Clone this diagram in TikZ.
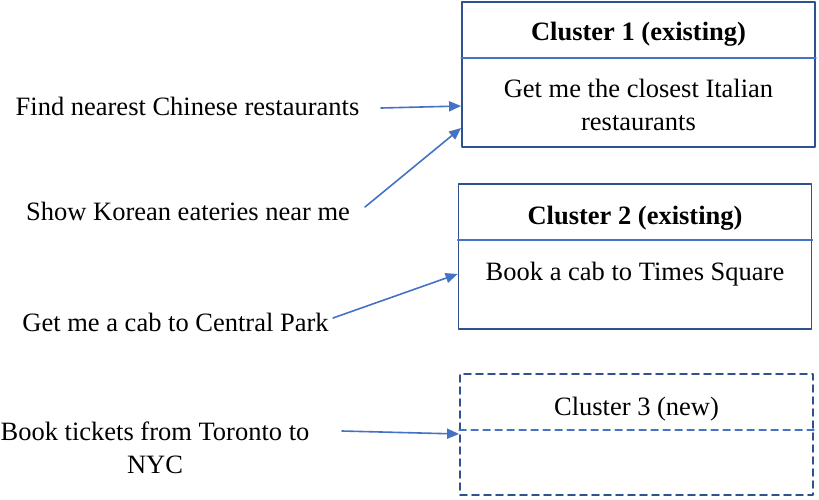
\documentclass[tikz,border=0pt]{standalone}
\usepackage{fontspec}
\setmainfont{Liberation Serif}
\usetikzlibrary{arrows.meta}

\definecolor{boxblue}{HTML}{2F528F}
\definecolor{linkblue}{HTML}{4472C4}

\tikzset{
  txt/.style={font=\fontsize{26.5}{32.5}\selectfont, inner sep=0pt, align=center},
  cbox/.style={draw=boxblue, line width=1.8pt, minimum width=353pt, inner sep=0pt},
  newbox/.style={cbox, dash pattern=on 7pt off 5pt},
  divline/.style={draw=linkblue, line width=1.4pt},
  link/.style={draw=linkblue, line width=1.6pt, -{Triangle[length=12pt,width=10pt]}}
}

\begin{document}
\begin{tikzpicture}[x=1pt, y=-1pt, line cap=round, line join=round]
    \useasboundingbox (0,0) rectangle (819,499);
    % clusters
    \node[cbox, minimum height=145pt] (c1) at (638.5,74.5) {};
    \node[cbox, minimum height=145pt] (c2) at (635,256.5) {};
    \node[newbox, minimum height=121pt] (c3) at (636.5,434.5) {};
    \draw[divline] (c1.west |- 0,58) -- (c1.east |- 0,58);
    \draw[divline] (c2.west |- 0,240) -- (c2.east |- 0,240);
    \draw[divline, dash pattern=on 7pt off 5pt] (c3.west |- 0,430) -- (c3.east |- 0,430);
    \node[txt, anchor=base, font=\fontsize{26.5}{32.5}\selectfont\bfseries] (h1) at (638.5,40) {Cluster 1 (existing)};
    \node[txt, anchor=base, font=\fontsize{26.5}{32.5}\selectfont\bfseries] (h2) at (635,224) {Cluster 2 (existing)};
    \node[txt, anchor=base] (h3) at (636.5,415) {Cluster 3 (new)};
    \node[txt, anchor=north] (b1) at (638.5,79) {Get me the closest Italian\\restaurants};
    \node[txt, anchor=base] (b2) at (635,280) {Book a cab to Times Square};
    % queries
    \node[txt, anchor=base] (q1) at (187.5,115.5) {Find nearest Chinese restaurants};
    \node[txt, anchor=base] (q2) at (188,220) {Show Korean eateries near me};
    \node[txt, anchor=base] (q3) at (175.5,331) {Get me a cab to Central Park};
    \node[txt, anchor=north] (q4) at (155,422) {Book tickets from Toronto to\\NYC};
    % links
    \coordinate (s1) at (381,108);  \coordinate (e1) at (c1.west |- 0,106);
    \coordinate (s2) at (365,207);  \coordinate (e2) at (c1.west |- 0,128);
    \coordinate (s3) at (333,318);  \coordinate (e3) at (c2.west |- 0,274);
    \coordinate (s4) at (342,431);  \coordinate (e4) at (c3.west |- 0,434);
    \foreach \i in {1,...,4} \draw[link] (s\i) -- (e\i);
\end{tikzpicture}
\end{document}
